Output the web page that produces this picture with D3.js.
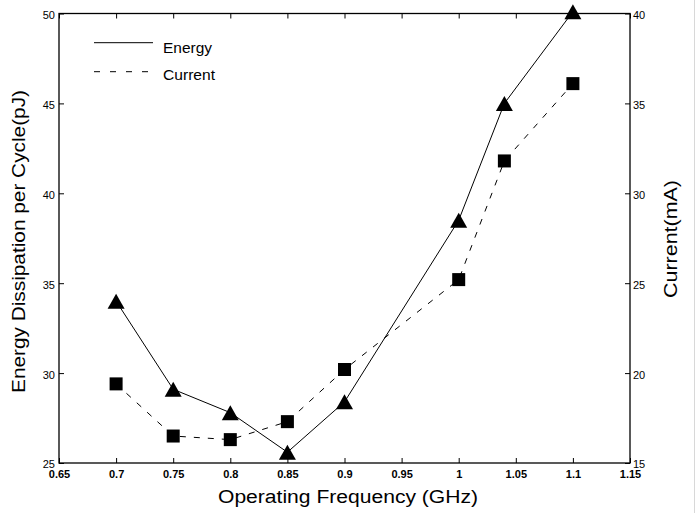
<!DOCTYPE html>
<html>
<head>
<meta charset="utf-8">
<script src="https://cdn.jsdelivr.net/npm/d3@7"></script>
<style>
  body { margin: 0; background: #fff; }
  svg { display: block; font-family: "Liberation Sans", Arial, Helvetica, sans-serif; }
</style>
</head>
<body>
<svg id="chart"></svg>
<script>
// values
const freqs = [0.7, 0.75, 0.8, 0.85, 0.9, 1.0, 1.04, 1.1];
const energy = [34.0, 29.1, 27.8, 25.6, 28.4, 38.5, 45.0, 50.1];   // pJ, left axis
const current = [19.4, 16.5, 16.3, 17.3, 20.2, 25.2, 31.8, 36.1];  // mA, right axis

const xTicks = [0.65, 0.7, 0.75, 0.8, 0.85, 0.9, 0.95, 1, 1.05, 1.1, 1.15];
const leftTicks = [25, 30, 35, 40, 45, 50];
const rightTicks = [15, 20, 25, 30, 35, 40];

const width = 696, height = 513;
const marginLeft = 59, marginRight = 66, marginTop = 13.5, marginBottom = 50;

const svg = d3.select("#chart")
    .attr("width", width)
    .attr("height", height)
    .attr("viewBox", [0, 0, width, height]);

const x = d3.scaleLinear()
    .domain([0.65, 1.15])
    .range([marginLeft, width - marginRight]);

const yL = d3.scaleLinear()
    .domain([25, 50])
    .range([height - marginBottom, marginTop]);

const yR = d3.scaleLinear()
    .domain([15, 40])
    .range([height - marginBottom, marginTop]);

// faint page edge on the right
svg.append("line")
    .attr("x1", 694.5).attr("x2", 694.5)
    .attr("y1", 0).attr("y2", height)
    .attr("stroke", "#d8d8d8");

// --- axes (ticks inward) ---------------------------------------------
const fmt = d => String(d);

svg.append("g")
    .attr("transform", `translate(0, ${yL.range()[0]})`)
    .call(d3.axisBottom(x).tickValues(xTicks).tickFormat(fmt)
        .tickSizeInner(-5).tickSizeOuter(0).tickPadding(7))
    .call(g => g.selectAll("text").attr("font-size", 11).attr("font-weight", "bold")
        .attr("font-family", null));

svg.append("g")
    .attr("transform", `translate(0, ${marginTop})`)
    .call(d3.axisTop(x).tickValues(xTicks).tickFormat("")
        .tickSizeInner(-5).tickSizeOuter(0));

svg.append("g")
    .attr("transform", `translate(${marginLeft}, 0)`)
    .call(d3.axisLeft(yL).tickValues(leftTicks).tickFormat(fmt)
        .tickSizeInner(-5).tickSizeOuter(0).tickPadding(4))
    .call(g => g.selectAll("text").attr("font-size", 11).attr("dy", "0.45em")
        .attr("font-family", null));

svg.append("g")
    .attr("transform", `translate(${width - marginRight}, 0)`)
    .call(d3.axisRight(yR).tickValues(rightTicks).tickFormat(fmt)
        .tickSizeInner(-5).tickSizeOuter(0).tickPadding(3))
    .call(g => g.selectAll("text").attr("font-size", 11).attr("dy", "0.45em")
        .attr("font-family", null));

svg.selectAll(".domain").remove();
svg.selectAll(".tick line").attr("stroke", "#000");

// plot box
svg.append("rect")
    .attr("x", x.range()[0])
    .attr("y", marginTop)
    .attr("width", x.range()[1] - x.range()[0])
    .attr("height", yL.range()[0] - marginTop)
    .attr("fill", "none")
    .attr("stroke", "#000")
    .attr("stroke-width", 1.3);

// --- series ------------------------------------------------------------
const energyLine = d3.line()
    .x((d, i) => x(freqs[i]))
    .y(d => yL(d));

const currentLine = d3.line()
    .x((d, i) => x(freqs[i]))
    .y(d => yR(d));

svg.append("path")
    .datum(current)
    .attr("d", currentLine)
    .attr("fill", "none")
    .attr("stroke", "#000")
    .attr("stroke-width", 1)
    .attr("stroke-dasharray", "6,8");

svg.append("path")
    .datum(energy)
    .attr("d", energyLine)
    .attr("fill", "none")
    .attr("stroke", "#000")
    .attr("stroke-width", 1);

// squares for current
svg.append("g")
    .selectAll("rect")
    .data(current)
    .join("rect")
    .attr("x", (d, i) => x(freqs[i]) - 6.5)
    .attr("y", d => yR(d) - 6.5)
    .attr("width", 13)
    .attr("height", 13)
    .attr("fill", "#000");

// triangles for energy
const tri = (cx, cy) => `M${cx},${cy - 7.5}L${cx + 8.5},${cy + 7.5}L${cx - 8.5},${cy + 7.5}Z`;

svg.append("g")
    .selectAll("path")
    .data(energy)
    .join("path")
    .attr("d", (d, i) => tri(x(freqs[i]), yL(d)))
    .attr("fill", "#000");

// --- legend -----------------------------------------------------------
const legend = svg.append("g");

legend.append("line")
    .attr("x1", 94).attr("x2", 153)
    .attr("y1", 42.7).attr("y2", 42.7)
    .attr("stroke", "#000");

legend.append("line")
    .attr("x1", 94).attr("x2", 150)
    .attr("y1", 71.7).attr("y2", 71.7)
    .attr("stroke", "#000")
    .attr("stroke-dasharray", "6,10");

legend.append("text")
    .attr("x", 163).attr("y", 52.5)
    .attr("font-size", 14)
    .attr("textLength", 49).attr("lengthAdjust", "spacingAndGlyphs")
    .text("Energy");

legend.append("text")
    .attr("x", 163).attr("y", 79.5)
    .attr("font-size", 14)
    .attr("textLength", 52).attr("lengthAdjust", "spacingAndGlyphs")
    .text("Current");

// --- titles -----------------------------------------------------------
svg.append("text")
    .attr("x", 348).attr("y", 503)
    .attr("text-anchor", "middle")
    .attr("font-size", 18)
    .attr("textLength", 260).attr("lengthAdjust", "spacingAndGlyphs")
    .text("Operating Frequency (GHz)");

svg.append("text")
    .attr("transform", "translate(25, 241.5) rotate(-90)")
    .attr("text-anchor", "middle")
    .attr("font-size", 18)
    .attr("textLength", 303).attr("lengthAdjust", "spacingAndGlyphs")
    .text("Energy Dissipation per Cycle(pJ)");

svg.append("text")
    .attr("transform", "translate(677, 239) rotate(-90)")
    .attr("text-anchor", "middle")
    .attr("font-size", 18)
    .attr("textLength", 118).attr("lengthAdjust", "spacingAndGlyphs")
    .text("Current(mA)");
</script>
</body>
</html>
